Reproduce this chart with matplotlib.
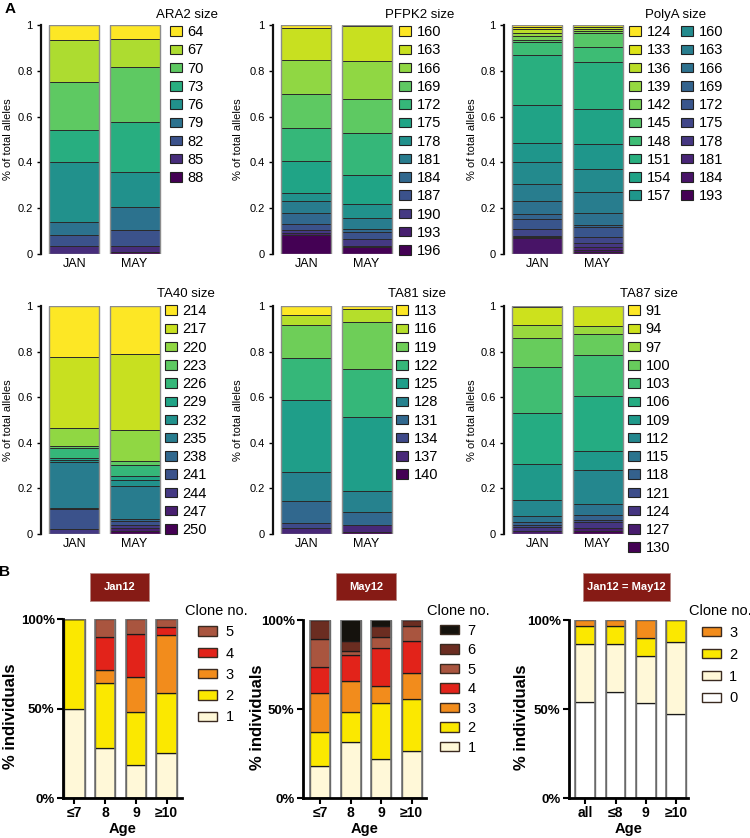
import matplotlib.pyplot as plt
from matplotlib.patches import Patch, Rectangle
import numpy as np

plt.rcParams['font.family'] = ['Liberation Sans', 'DejaVu Sans']

W, H = 750, 838
fig = plt.figure(figsize=(7.5, 8.38), dpi=100)


def px(l, t, w, h):
    # pixel box (left, top, width, height) -> figure fraction rect
    return [l / W, 1 - (t + h) / H, w / W, h / H]


# ---------------- panel A data (fractions, legend order top -> bottom) ----------------
months = ['JAN', 'MAY']

ara2_sizes = [64, 67, 70, 73, 76, 79, 82, 85, 88]
ara2_jan = [0.067, 0.183, 0.21, 0.14, 0.26, 0.055, 0.05, 0.035, 0.0]
ara2_may = [0.063, 0.119, 0.24, 0.221, 0.153, 0.099, 0.07, 0.025, 0.01]

pfpk2_sizes = [160, 163, 166, 169, 172, 175, 178, 181, 184, 187, 190, 193, 196]
pfpk2_jan = [0.014, 0.139, 0.149, 0.148, 0.145, 0.14, 0.035, 0.05, 0.05, 0.025, 0.012, 0.008, 0.085]
pfpk2_may = [0.005, 0.152, 0.168, 0.145, 0.185, 0.127, 0.062, 0.048, 0.013, 0.031, 0.031, 0.003, 0.03]

polya_sizes = [124, 133, 136, 139, 142, 145, 148, 151, 154, 157,
               160, 163, 166, 169, 172, 175, 178, 181, 184, 193]
polya_jan = [0.01, 0.007, 0.019, 0.011, 0.019, 0.01, 0.055, 0.218, 0.165, 0.083,
             0.099, 0.071, 0.06, 0.019, 0.046, 0.029, 0.005, 0.005, 0.069, 0.0]
polya_may = [0.0, 0.007, 0.01, 0.009, 0.008, 0.064, 0.062, 0.208, 0.153, 0.109,
             0.098, 0.094, 0.05, 0.009, 0.043, 0.027, 0.017, 0.015, 0.01, 0.007]

ta40_sizes = [214, 217, 220, 223, 226, 229, 232, 235, 238, 241, 244, 247, 250]
ta40_jan = [0.225, 0.308, 0.083, 0.006, 0.045, 0.008, 0.01, 0.202, 0.003, 0.088, 0.022, 0.0, 0.0]
ta40_may = [0.21, 0.336, 0.136, 0.017, 0.048, 0.018, 0.023, 0.146, 0.011, 0.014, 0.015, 0.014, 0.012]

ta81_sizes = [113, 116, 119, 122, 125, 128, 131, 134, 137, 140]
ta81_jan = [0.039, 0.044, 0.146, 0.183, 0.316, 0.129, 0.095, 0.022, 0.026, 0.0]
ta81_may = [0.015, 0.054, 0.208, 0.211, 0.322, 0.094, 0.055, 0.0, 0.032, 0.009]

ta87_sizes = [91, 94, 97, 100, 103, 106, 109, 112, 115, 118, 121, 124, 127, 130]
ta87_jan = [0.006, 0.077, 0.056, 0.127, 0.204, 0.222, 0.158, 0.07, 0.029, 0.01, 0.012, 0.017, 0.012, 0.0]
ta87_may = [0.0, 0.088, 0.035, 0.092, 0.178, 0.245, 0.083, 0.146, 0.048, 0.022, 0.012, 0.025, 0.011, 0.015]

# ---------------- panel B data ----------------
ages_a = ['≤7', '8', '9', '≥10']
ages_b = ['all', '≤8', '9', '≥10']

jan_clones = ['1', '2', '3', '4', '5']
jan12 = {'1': [0.5, 0.28, 0.187, 0.249],
         '2': [0.5, 0.361, 0.295, 0.34],
         '3': [0.0, 0.075, 0.193, 0.319],
         '4': [0.0, 0.181, 0.243, 0.047],
         '5': [0.0, 0.103, 0.082, 0.045]}

may_clones = ['1', '2', '3', '4', '5', '6', '7']
may12 = {'1': [0.182, 0.313, 0.218, 0.265],
         '2': [0.186, 0.171, 0.313, 0.292],
         '3': [0.223, 0.173, 0.097, 0.148],
         '4': [0.146, 0.144, 0.216, 0.177],
         '5': [0.154, 0.026, 0.062, 0.084],
         '6': [0.109, 0.057, 0.06, 0.034],
         '7': [0.0, 0.116, 0.034, 0.0]}

both_clones = ['0', '1', '2', '3']
both12 = {'0': [0.542, 0.598, 0.531, 0.471],
          '1': [0.323, 0.267, 0.268, 0.403],
          '2': [0.101, 0.101, 0.101, 0.126],
          '3': [0.034, 0.034, 0.1, 0.0]}

clone_colors = {'0': '#ffffff', '1': '#fff8d8', '2': '#fbe800', '3': '#f28c1c',
                '4': '#e2231a', '5': '#a9553f', '6': '#6b2d21', '7': '#15120d'}


def allele_panel(rect, sizes, jan, may, title, leg_cx, leg_top, ylab_x, ncol=1):
    ax = fig.add_axes(px(*rect))
    n = len(sizes)
    cols = plt.cm.viridis(np.linspace(1, 0, n))
    vals = np.array([jan, may])
    x = np.arange(2)
    bottom = np.zeros(2)
    for i in range(n - 1, -1, -1):
        ax.bar(x, vals[:, i], 0.83, bottom=bottom, color=cols[i],
               edgecolor='#2a2a2a', linewidth=0.7)
        bottom += vals[:, i]
    ax.bar(x, bottom, 0.83, fill=False, edgecolor='#8c8c8c', linewidth=1.0)
    ax.set_xlim(-0.55, 1.47)
    ax.set_ylim(0, 1)
    ax.set_xticks(x)
    ax.set_xticklabels(months, fontsize=9)
    ax.tick_params(axis='x', length=0, pad=3)
    ax.set_yticks([0, 0.2, 0.4, 0.6, 0.8, 1.0])
    ax.set_yticklabels(['0', '0.2', '0.4', '0.6', '0.8', '1'], fontsize=8)
    ax.tick_params(axis='y', length=3, width=1, pad=3)
    for s in ['top', 'right', 'bottom']:
        ax.spines[s].set_visible(False)
    ax.spines['left'].set_linewidth(1.6)
    ax.spines['left'].set_color('#111111')
    l, t, w, h = rect
    fig.text(ylab_x / W, 1 - (t + h / 2) / H, '% of total alleles', rotation=90,
             ha='center', va='center', fontsize=8)
    handles = [Patch(facecolor=cols[i], edgecolor='#222222', linewidth=0.8, label=str(s))
               for i, s in enumerate(sizes)]
    ax.legend(handles=handles, title=title, ncol=ncol, loc='upper center',
              bbox_to_anchor=(leg_cx / W, 1 - leg_top / H), bbox_transform=fig.transFigure,
              frameon=False, fontsize=10.5, title_fontsize=9.5, borderpad=0, borderaxespad=0,
              handlelength=0.82, handleheight=0.62, handletextpad=0.4, labelspacing=0.29,
              columnspacing=0.7)
    return ax


allele_panel((41, 25, 122, 229), ara2_sizes, ara2_jan, ara2_may, 'ARA2 size', 187, 9, 8)
allele_panel((273, 25, 122, 229), pfpk2_sizes, pfpk2_jan, pfpk2_may, 'PFPK2 size', 420, 9, 238)
allele_panel((504, 25, 122, 229), polya_sizes, polya_jan, polya_may, 'PolyA size', 676, 9, 472, ncol=2)
allele_panel((41, 306, 122, 228), ta40_sizes, ta40_jan, ta40_may, 'TA40 size', 186, 288, 8)
allele_panel((273, 306, 122, 228), ta81_sizes, ta81_jan, ta81_may, 'TA81 size', 417, 288, 238)
allele_panel((504, 306, 122, 228), ta87_sizes, ta87_jan, ta87_may, 'TA87 size', 649, 288, 472)


def clone_panel(rect, xlim, ages, clones, data, box, box_text, leg_cx, ylab_x, lspace):
    ax = fig.add_axes(px(*rect))
    x = np.arange(len(ages))
    bottom = np.zeros(len(ages))
    for c in clones:
        v = np.array(data[c])
        ax.bar(x, v, 0.66, bottom=bottom, color=clone_colors[c],
               edgecolor='#1a1a1a', linewidth=0.9)
        bottom += v
    ax.bar(x, bottom, 0.66, fill=False, edgecolor='#7a7a7a', linewidth=1.2)
    ax.set_xlim(*xlim)
    ax.set_ylim(0, 1)
    ax.set_xticks(x)
    ax.set_xticklabels(ages, fontsize=10, fontweight='bold')
    ax.set_yticks([0, 0.5, 1])
    ax.set_yticklabels(['0%', '50%', '100%'], fontsize=9.5, fontweight='bold')
    ax.tick_params(length=4, width=1.5, pad=2)
    for s in ['top', 'right']:
        ax.spines[s].set_visible(False)
    for s in ['left', 'bottom']:
        ax.spines[s].set_linewidth(2)
    ax.set_xlabel('Age', fontsize=10.5, fontweight='bold', labelpad=1)
    l, t, w, h = rect
    fig.text(ylab_x / W, 1 - (t + h / 2 + 8) / H, '% individuals', rotation=90,
             ha='center', va='center', fontsize=12, fontweight='bold')
    bl, bt, bw, bh = box
    fig.patches.append(Rectangle((bl / W, 1 - (bt + bh) / H), bw / W, bh / H,
                                 transform=fig.transFigure, facecolor='#861b15',
                                 edgecolor='#b88a86', linewidth=0.6))
    fig.text((bl + bw / 2) / W, 1 - (bt + bh / 2) / H, box_text, color='white',
             fontsize=8, fontweight='bold', ha='center', va='center')
    handles = [Patch(facecolor=clone_colors[c], edgecolor='#3a2a20', linewidth=1.0, label=c)
               for c in clones[::-1]]
    ax.legend(handles=handles, title='Clone no.', loc='upper center',
              bbox_to_anchor=(leg_cx / W, 1 - 604 / H), bbox_transform=fig.transFigure,
              frameon=False, fontsize=10.5, title_fontsize=10.5, borderpad=0, borderaxespad=0,
              handlelength=1.25, handleheight=0.62, handletextpad=0.6, labelspacing=lspace)
    return ax


clone_panel((63, 619, 119, 179), (-0.37, 3.5), ages_a, jan_clones, jan12,
            (90, 573, 59, 28), 'Jan12', 216, 11, 0.5)
clone_panel((303, 620, 123, 178), (-0.57, 3.47), ages_a, may_clones, may12,
            (336, 573, 60, 27), 'May12', 458, 257, 0.38)
clone_panel((569, 620, 119, 178), (-0.54, 3.4), ages_b, both_clones, both12,
            (583, 573, 87, 28), 'Jan12 = May12', 720, 522, 0.54)

fig.text(10 / W, 1 - 9 / H, 'A', fontsize=11, fontweight='bold', ha='center', va='center')
fig.text(5 / W, 1 - 572 / H, 'B', fontsize=11, fontweight='bold', ha='center', va='center')

fig.savefig('out.png', dpi=100)
